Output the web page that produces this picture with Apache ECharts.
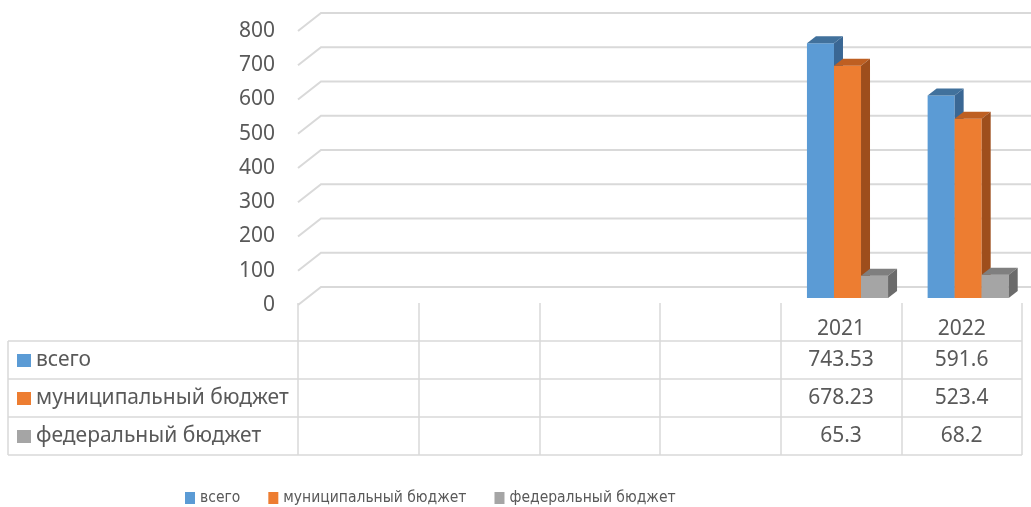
<!DOCTYPE html>
<html><head><meta charset="utf-8">
<script src="https://cdn.jsdelivr.net/npm/echarts@6/dist/echarts.min.js"></script>
<style>html,body{margin:0;padding:0;background:#fff}#c{width:1031px;height:507px}</style>
</head><body><div id="c"></div>
<script>
const categories = ['', '', '', '', '2021', '2022'];
const seriesNames = ['всего', 'муниципальный бюджет', 'федеральный бюджет'];
const total = [null, null, null, null, 743.53, 591.6];
const municipal = [null, null, null, null, 678.23, 523.4];
const federal = [null, null, null, null, 65.3, 68.2];
const yTicks = [0, 100, 200, 300, 400, 500, 600, 700, 800];

const FONT = '"Noto Sans", sans-serif';
const TXT = '#595959';
const GRID = '#d9d9d9';
const faces = [
  {front: '#5B9BD5', top: '#41719C', side: '#3A6794'},
  {front: '#ED7D31', top: '#BE5F22', side: '#9E4E1C'},
  {front: '#A5A5A5', top: '#7F7F7F', side: '#6B6B6B'}
];
const allValues = [total, municipal, federal];

const chart = echarts.init(document.getElementById('c'));

function barRender(k) {
  return function (params, api) {
    const v = api.value(1);
    if (v == null || isNaN(v)) return;
    const i = api.value(0);
    const base = api.coord([i, 0]);
    const top = api.coord([i, v]);
    const band = api.size([1, 0])[0];
    const bw = band * 0.224;
    const x0 = base[0] - 1.5 * bw + k * bw + 6.5;
    const yb = base[1] - 7, yt = top[1] - 7;
    const dx = 9, dy = -7;
    const f = faces[k];
    return {type: 'group', children: [
      {type: 'rect', shape: {x: x0, y: yt, width: bw, height: yb - yt}, style: {fill: f.front}},
      {type: 'polygon', shape: {points: [[x0, yt], [x0 + bw, yt], [x0 + bw + dx, yt + dy], [x0 + dx, yt + dy]]}, style: {fill: f.top}},
      {type: 'polygon', shape: {points: [[x0 + bw, yt], [x0 + bw + dx, yt + dy], [x0 + bw + dx, yb + dy], [x0 + bw, yb]]}, style: {fill: f.side}}
    ]};
  };
}

function labelAxis(data, offset) {
  return {
    type: 'category', data: data, gridIndex: 0, position: 'bottom', offset: offset,
    axisLine: {show: false}, axisTick: {show: false}, splitLine: {show: false},
    axisLabel: {interval: 0, margin: 0, verticalAlign: 'middle', color: TXT, fontSize: 21, fontFamily: FONT}
  };
}
const fmt = arr => arr.map(v => v == null ? '' : String(v));

const rowTops = [350, 388, 426];
const tableLegends = seriesNames.map((n, r) => ({
  data: [n], left: 17, top: rowTops[r], orient: 'horizontal', selectedMode: false, padding: 0,
  icon: 'rect', itemWidth: 14, itemHeight: 13, itemGap: 5,
  textStyle: {color: TXT, fontSize: 21, fontFamily: FONT}
}));

const option = {
  animation: false,
  grid: {left: 298, right: 9, top: 31, bottom: 202, containLabel: false},
  xAxis: [
    {type: 'category', data: categories, axisLine: {show: false}, axisTick: {show: false}, axisLabel: {show: false}, splitLine: {show: false}},
    {type: 'category', data: categories, gridIndex: 0, position: 'bottom', offset: -2,
     axisLine: {show: false}, axisLabel: {show: false}, splitLine: {show: false},
     axisTick: {show: true, length: 152, inside: false, lineStyle: {color: GRID, width: 1.5}}},
    labelAxis(categories, 24),
    labelAxis(fmt(total), 55),
    labelAxis(fmt(municipal), 93),
    labelAxis(fmt(federal), 131)
  ],
  yAxis: {
    type: 'value', min: 0, max: 800, interval: 100,
    axisLine: {show: false}, axisTick: {show: false}, splitLine: {show: false},
    axisLabel: {margin: 23, color: TXT, fontSize: 21, fontFamily: FONT}
  },
  legend: [
    {data: seriesNames, left: 185, top: 490, selectedMode: false, icon: 'rect', padding: 0,
     itemWidth: 10, itemHeight: 12, itemGap: 28,
     textStyle: {color: TXT, fontSize: 15.5, fontFamily: '"DejaVu Sans Condensed", ' + FONT}}
  ].concat(tableLegends),
  graphic: [
    {type: 'line', shape: {x1: 8, y1: 341, x2: 1022, y2: 341}, style: {stroke: GRID, lineWidth: 1.5}},
    {type: 'line', shape: {x1: 8, y1: 379, x2: 1022, y2: 379}, style: {stroke: GRID, lineWidth: 1.5}},
    {type: 'line', shape: {x1: 8, y1: 417, x2: 1022, y2: 417}, style: {stroke: GRID, lineWidth: 1.5}},
    {type: 'line', shape: {x1: 8, y1: 455, x2: 1022, y2: 455}, style: {stroke: GRID, lineWidth: 1.5}},
    {type: 'line', shape: {x1: 8, y1: 341, x2: 8, y2: 455}, style: {stroke: GRID, lineWidth: 1.5}}
  ],
  series: [
    {
      type: 'custom', name: 'grid', silent: true, z: 1,
      data: yTicks.map(v => [0, v]),
      renderItem: function (params, api) {
        const cs = params.coordSys;
        const y = api.coord([0, api.value(1)])[1];
        return {type: 'polyline', shape: {points: [[cs.x, y], [cs.x + 23, y - 18], [cs.x + cs.width + 9, y - 18]]},
                style: {stroke: GRID, lineWidth: 2, fill: null}};
      }
    }
  ].concat(allValues.map((arr, k) => ({
    type: 'custom', name: seriesNames[k], z: 2 + k,
    itemStyle: {color: faces[k].front},
    data: categories.map((c, i) => [i, arr[i]]),
    renderItem: barRender(k)
  })))
};
chart.setOption(option);
</script>
</body></html>
